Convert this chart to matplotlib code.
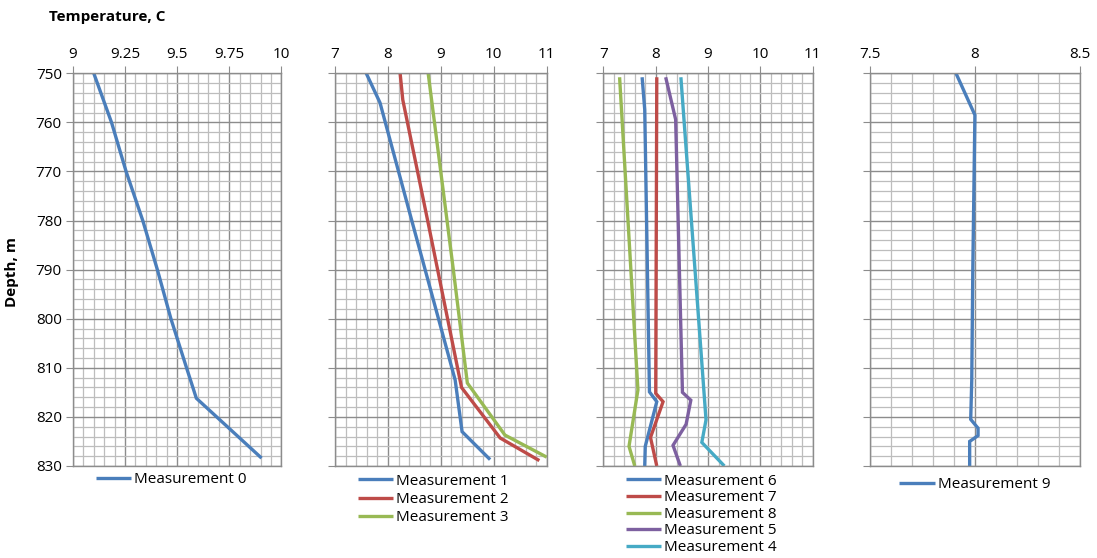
import matplotlib
matplotlib.use("Agg")
import matplotlib.pyplot as plt
from matplotlib.ticker import MultipleLocator

plt.rcParams['font.family'] = ['Open Sans', 'DejaVu Sans']

# Temperature profiles (depth in m, temperature in C)
depth_m0 = [750, 760, 770, 780, 790, 800, 810, 816.2, 828.4]
temp_m0 = [9.10, 9.185, 9.255, 9.335, 9.405, 9.47, 9.545, 9.592, 9.905]

depth_m1 = [750, 756, 780, 812.5, 823.0, 828.7]
temp_m1 = [7.59, 7.85, 8.45, 9.27, 9.40, 9.93]
depth_m2 = [750, 755.4, 780, 814.0, 824.3, 828.9]
temp_m2 = [8.23, 8.28, 8.75, 9.39, 10.12, 10.86]
depth_m3 = [750, 767.7, 790, 813.1, 823.7, 828.2]
temp_m3 = [8.76, 8.97, 9.235, 9.50, 10.21, 11.0]

depth_m6 = [750.8, 757.4, 814.9, 816.9, 826.0, 830.0]
temp_m6 = [7.74, 7.79, 7.88, 8.02, 7.80, 7.79]
depth_m7 = [750.8, 815.2, 816.9, 824.2, 830.0]
temp_m7 = [8.02, 8.00, 8.14, 7.90, 8.02]
depth_m8 = [750.8, 814.5, 826.0, 830.0]
temp_m8 = [7.31, 7.66, 7.49, 7.60]
depth_m5 = [750.8, 759.4, 815.0, 816.6, 821.5, 825.8, 830.0]
temp_m5 = [8.19, 8.38, 8.51, 8.67, 8.58, 8.33, 8.47]
depth_m4 = [750.8, 820.6, 825.2, 830.0]
temp_m4 = [8.48, 8.96, 8.88, 9.31]

depth_m9 = [750, 758.5, 790, 812.5, 820.5, 822.3, 823.8, 825.0, 830.0]
temp_m9 = [7.91, 8.00, 7.99, 7.985, 7.98, 8.015, 8.015, 7.975, 7.975]

# Tick labels along the temperature axes
ticks_p1 = [9, 9.25, 9.5, 9.75, 10]
labels_p1 = ["9", "9.25", "9.5", "9.75", "10"]
ticks_p2 = [7, 8, 9, 10, 11]
labels_p2 = ["7", "8", "9", "10", "11"]
ticks_p3 = [7, 8, 9, 10, 11]
labels_p3 = ["7", "8", "9", "10", "11"]
ticks_p4 = [7.5, 8, 8.5]
labels_p4 = ["7.5", "8", "8.5"]
depth_ticks = [750, 760, 770, 780, 790, 800, 810, 820, 830]

BLUE, RED, GREEN, PURPLE, CYAN = "#4A7EBB", "#BE4B48", "#98B954", "#7D60A0", "#46AAC5"

panels = [
    dict(ticks=ticks_p1, labels=labels_p1, minor=0.05,
         series=[("Measurement 0", depth_m0, temp_m0, BLUE)],
         lspace=0.1, anchor=(0.47, -0.015)),
    dict(ticks=ticks_p2, labels=labels_p2, minor=0.2,
         series=[("Measurement 1", depth_m1, temp_m1, BLUE),
                 ("Measurement 2", depth_m2, temp_m2, RED),
                 ("Measurement 3", depth_m3, temp_m3, GREEN)],
         lspace=0.2, anchor=(0.465, -0.02)),
    dict(ticks=ticks_p3, labels=labels_p3, minor=0.2,
         series=[("Measurement 6", depth_m6, temp_m6, BLUE),
                 ("Measurement 7", depth_m7, temp_m7, RED),
                 ("Measurement 8", depth_m8, temp_m8, GREEN),
                 ("Measurement 5", depth_m5, temp_m5, PURPLE),
                 ("Measurement 4", depth_m4, temp_m4, CYAN)],
         lspace=0.1, anchor=(0.469, -0.02)),
    dict(ticks=ticks_p4, labels=labels_p4, minor=0.1,
         series=[("Measurement 9", depth_m9, temp_m9, BLUE)],
         lspace=0.1, anchor=(0.5, -0.029)),
]

lefts = [0.0665, 0.3054, 0.550, 0.793]
widths = [0.190, 0.193, 0.191, 0.1914]
bottom, height = 0.1649, 0.7037

fig = plt.figure(figsize=(10.97, 5.58), dpi=100)

for i, p in enumerate(panels):
    ax = fig.add_axes([lefts[i], bottom, widths[i], height])
    ax.set_xlim(p["ticks"][0], p["ticks"][-1])
    ax.set_ylim(depth_ticks[-1], depth_ticks[0])
    ax.set_xticks(p["ticks"])
    ax.set_xticklabels(p["labels"])
    ax.xaxis.set_minor_locator(MultipleLocator(p["minor"]))
    ax.set_yticks(depth_ticks)
    ax.yaxis.set_minor_locator(MultipleLocator(2))
    ax.grid(which="major", color="#8C8C8C", linewidth=1.0)
    ax.grid(which="minor", color="#BDBDBD", linewidth=0.9)
    ax.set_axisbelow(True)
    ax.xaxis.tick_top()
    ax.tick_params(which="major", direction="out", length=5, color="#8C8C8C",
                   labelsize=11, pad=3)
    ax.tick_params(which="minor", length=0)
    if i > 0:
        ax.tick_params(axis="y", labelleft=False)
    for s in ax.spines.values():
        s.set_color("#8C8C8C")
        s.set_linewidth(1.0)
    for label, d, t, c in p["series"]:
        ax.plot(t, d, color=c, linewidth=2.4, label=label,
                solid_capstyle="butt", solid_joinstyle="miter")
    ax.legend(loc="upper center", bbox_to_anchor=p["anchor"], frameon=False,
              fontsize=11, handlelength=2.3, handletextpad=0.2,
              labelspacing=p["lspace"], borderpad=0, borderaxespad=0)

fig.text(0.0447, 0.9695, "Temperature, C", fontsize=11, fontweight="bold",
         va="center", ha="left")
fig.text(0.005, 0.512, "Depth, m", fontsize=11, fontweight="bold",
         rotation=90, va="center", ha="left")

fig.savefig("out.png", dpi=100)
